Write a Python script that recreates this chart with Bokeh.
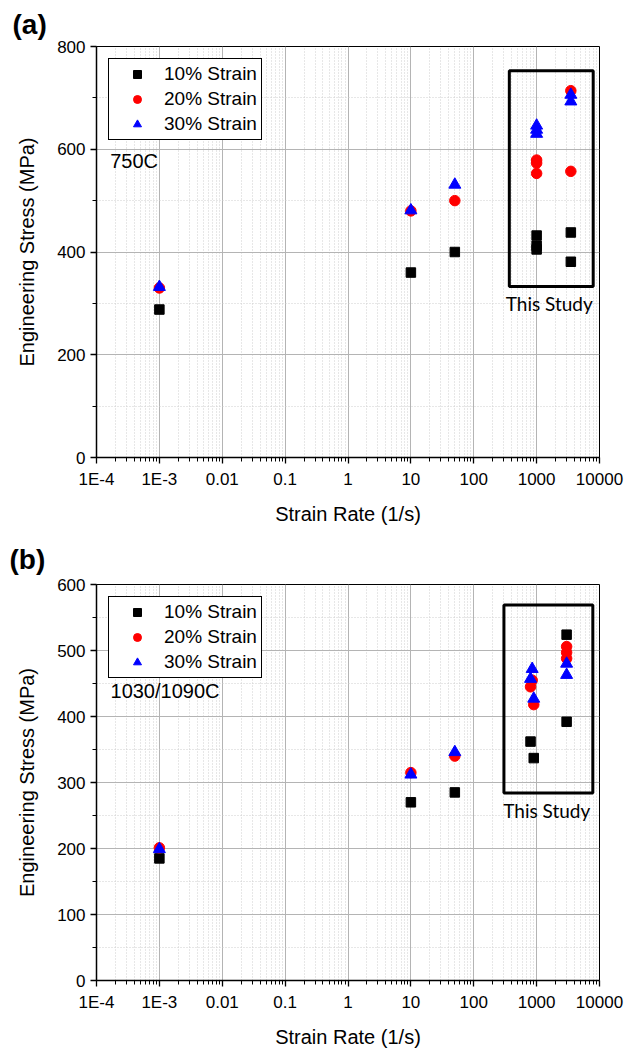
from bokeh.plotting import figure
from bokeh.models import (FixedTicker, CustomJSTickFormatter, Legend, LegendItem,
                          Label, BoxAnnotation, Title)
from bokeh.layouts import column
from bokeh.embed import file_html
from bokeh.resources import INLINE

# ---------------- data ----------------
series_names = ["10% Strain", "20% Strain", "30% Strain"]
x_decades = [1e-4, 1e-3, 1e-2, 1e-1, 1, 10, 100, 1000, 10000]
x_tick_labels = ["1E-4", "1E-3", "0.01", "0.1", "1", "10", "100", "1000", "10000"]

# panel (a) 750C
a_rate_10 = [0.001, 10, 50, 1000, 1000, 1000, 3500, 3500]
a_stress_10 = [288, 360, 400, 432, 412, 405, 438, 381]
a_rate_20 = [0.001, 10, 50, 1000, 1000, 1000, 3500, 3500]
a_stress_20 = [330, 480, 500, 579, 573, 553, 714, 557]
a_rate_30 = [0.001, 10, 50, 1000, 1000, 1000, 3500, 3500]
a_stress_30 = [332, 481, 531, 646, 638, 630, 706, 693]
a_y_ticks = [0, 200, 400, 600, 800]
a_y_minor = [100, 300, 500, 700]

# panel (b) 1030/1090C
b_rate_10 = [0.001, 10, 50, 800, 900, 3000, 3000]
b_stress_10 = [185, 270, 285, 362, 337, 524, 392]
b_rate_20 = [0.001, 10, 50, 850, 800, 900, 3000, 3000, 3000]
b_stress_20 = [201, 315, 340, 455, 445, 418, 506, 497, 488]
b_rate_30 = [0.001, 10, 50, 850, 800, 900, 3000, 3000]
b_stress_30 = [199, 312, 346, 472, 457, 427, 480, 463]
b_y_ticks = [0, 100, 200, 300, 400, 500, 600]
b_y_minor = [50, 150, 250, 350, 450, 550]

x_minor = [m * d for d in x_decades[:-1] for m in range(2, 10)]

FONT = "Liberation Sans"


def make_panel(tag, cond, data, y_max, y_ticks, y_minor, box, study_xy, cond_xy,
               height, borders, title_standoff):
    top, bottom, left, right = borders
    p = figure(width=642, height=height, x_axis_type="log",
               x_range=(1e-4, 1e4), y_range=(0, y_max),
               output_backend="svg", toolbar_location=None,
               min_border_top=top, min_border_bottom=bottom,
               min_border_left=left, min_border_right=right)
    p.outline_line_color = "black"
    p.outline_line_width = 1
    p.outline_line_alpha = 1
    p.background_fill_color = "white"
    p.border_fill_color = "white"

    p.add_layout(Title(text=tag, align="left", offset=-(left - 9),
                       text_font=FONT, text_font_size="28px",
                       text_font_style="bold", text_color="black",
                       standoff=title_standoff), "above")

    p.xaxis.ticker = FixedTicker(ticks=x_decades, minor_ticks=x_minor)
    p.xaxis.formatter = CustomJSTickFormatter(
        args=dict(labels=x_tick_labels),
        code="const i = Math.round(Math.log10(tick)) + 4; return labels[i];")
    p.yaxis.ticker = FixedTicker(ticks=y_ticks, minor_ticks=y_minor)

    for ax in (p.xaxis, p.yaxis):
        ax.axis_line_width = 1.5
        ax.axis_line_color = "black"
        ax.major_tick_line_color = "black"
        ax.minor_tick_line_color = "black"
        ax.major_tick_line_width = 1.3
        ax.major_tick_out = 6
        ax.major_tick_in = 0
        ax.minor_tick_out = 4
        ax.minor_tick_in = 0
        ax.major_label_text_font = FONT
        ax.major_label_text_font_size = "17px"
        ax.major_label_text_color = "black"
        ax.axis_label_text_font = FONT
        ax.axis_label_text_font_size = "20px"
        ax.axis_label_text_font_style = "normal"
        ax.axis_label_text_color = "black"
    p.xaxis.axis_label = "Strain Rate (1/s)"
    p.yaxis.axis_label = "Engineering Stress (MPa)"
    p.xaxis.axis_label_standoff = 11
    p.yaxis.axis_label_standoff = 16
    p.xaxis.major_label_standoff = 6
    p.yaxis.major_label_standoff = 5

    for g in (p.xgrid, p.ygrid):
        g.grid_line_color = "#b4b4b4"
        g.grid_line_width = 1
        g.minor_grid_line_color = "#cfcfcf"
        g.minor_grid_line_dash = "1 2"
        g.minor_grid_line_width = 1

    (r10x, r10y), (r20x, r20y), (r30x, r30y) = data
    s10 = p.scatter(r10x, r10y, marker="square", size=9.5, fill_color="black",
                    line_color="black")
    s20 = p.scatter(r20x, r20y, marker="circle", size=10.5, fill_color="red",
                    line_color="red")
    s30 = p.scatter(r30x, r30y, marker="triangle", size=12, fill_color="blue",
                    line_color="blue")

    legend = Legend(items=[LegendItem(label=series_names[0], renderers=[s10]),
                           LegendItem(label=series_names[1], renderers=[s20]),
                           LegendItem(label=series_names[2], renderers=[s30])],
                    location="top_left")
    legend.margin = 12
    legend.padding = 4
    legend.spacing = 3
    legend.glyph_height = 20
    legend.glyph_width = 48
    legend.label_height = 20
    legend.label_standoff = 3
    legend.label_text_font = FONT
    legend.label_text_font_size = "19px"
    legend.label_text_color = "black"
    legend.border_line_color = "black"
    legend.border_line_width = 1
    legend.border_line_alpha = 1
    legend.background_fill_alpha = 1
    p.add_layout(legend, "center")

    bl, br, bb, bt = box
    p.add_layout(BoxAnnotation(left=bl, right=br, bottom=bb, top=bt,
                               fill_alpha=0, line_color="black", line_alpha=1,
                               line_width=3))
    p.add_layout(Label(x=study_xy[0], y=study_xy[1], text="This Study",
                       text_font="Lato", text_font_size="19px",
                       text_align="center", text_baseline="middle",
                       text_color="black"))
    p.add_layout(Label(x=cond_xy[0], y=cond_xy[1], text=cond,
                       text_font=FONT, text_font_size="20px",
                       text_align="left", text_baseline="middle",
                       text_color="black"))
    return p


pa = make_panel("(a)", "750C",
                [(a_rate_10, a_stress_10), (a_rate_20, a_stress_20),
                 (a_rate_30, a_stress_30)],
                800, a_y_ticks, a_y_minor,
                (368, 7940, 333, 753), (1590, 300), (1.65e-4, 578),
                530, (46, 73, 93, 36), 13)

pb = make_panel("(b)", "1030/1090C",
                [(b_rate_10, b_stress_10), (b_rate_20, b_stress_20),
                 (b_rate_30, b_stress_30)],
                600, b_y_ticks, b_y_minor,
                (302, 7830, 284, 569), (1450, 258), (1.67e-4, 439),
                520, (54, 63, 96, 43), 19)

layout = column(pa, pb, spacing=0)
open("out.html", "w").write(file_html(layout, INLINE))
